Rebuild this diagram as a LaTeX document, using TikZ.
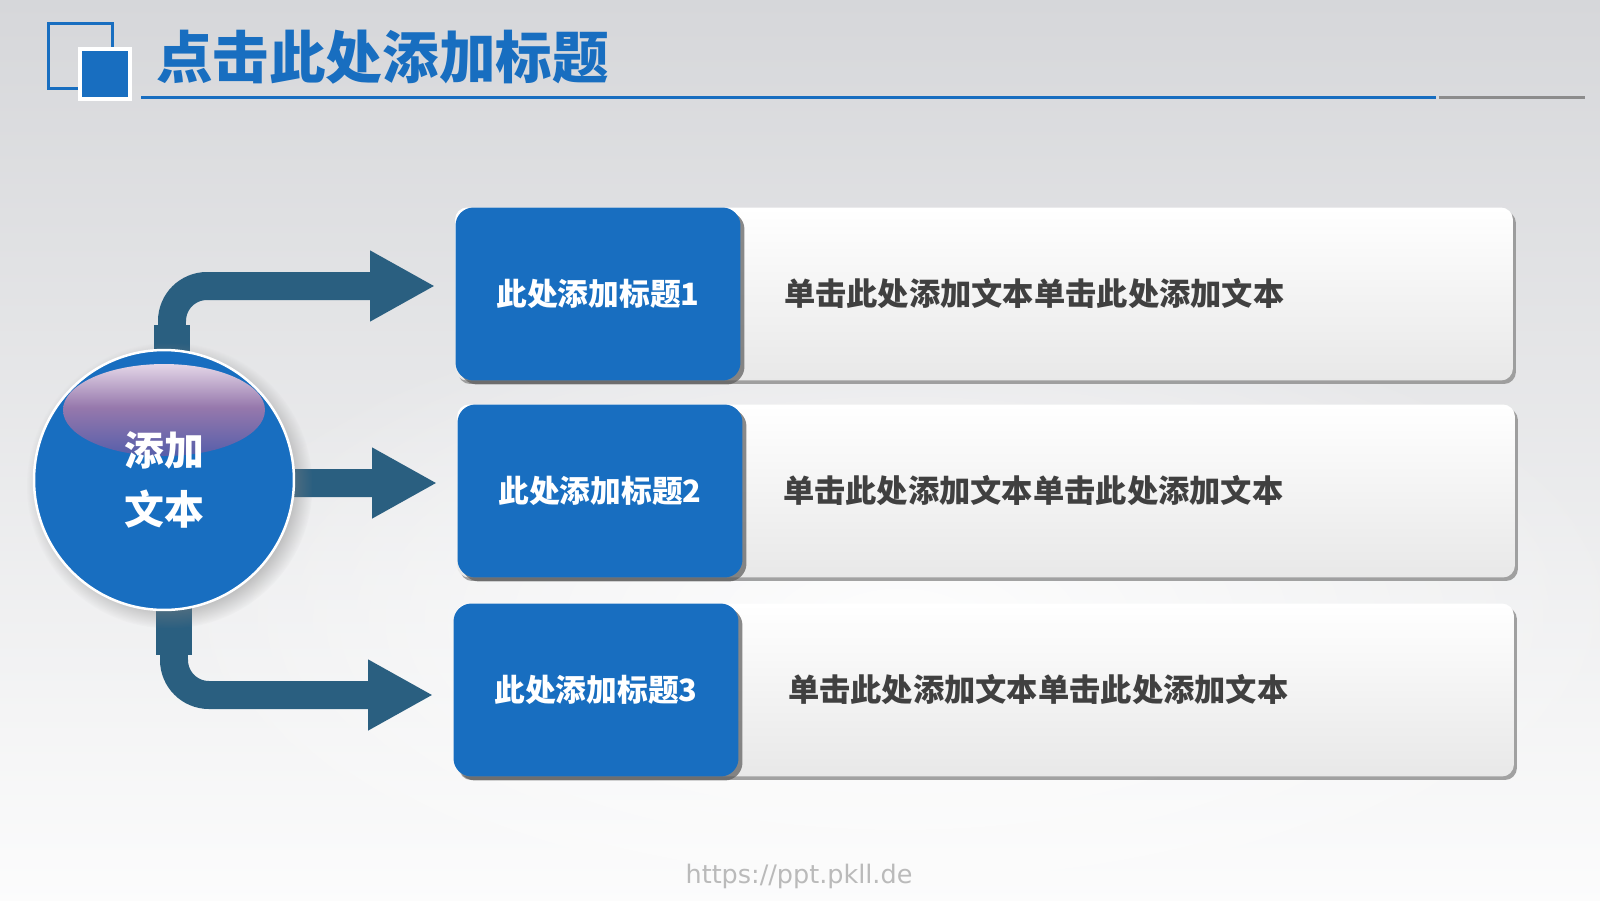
\documentclass[tikz,border=0pt]{standalone}
\usepackage{fontspec}
\setmainfont{Noto Sans CJK SC}
\newfontfamily\urlfont{DejaVu Sans}
\usetikzlibrary{positioning,shadows,arrows.meta,fadings}
\pgfdeclarelayer{back}
\pgfdeclarelayer{flows}
\pgfsetlayers{back,flows,main}

\definecolor{mainblue}{RGB}{24,110,192}
\definecolor{flowblue}{RGB}{42,95,128}
\definecolor{bggray}{RGB}{214,215,218}
\definecolor{textgray}{RGB}{64,64,64}
\definecolor{glosstop}{RGB}{244,234,244}
\definecolor{glossmid}{RGB}{150,120,172}
\definecolor{glossbot}{RGB}{80,92,170}
\tikzfading[name=glowfade, inner color=transparent!10, outer color=transparent!100]

\tikzset{
  titlebox/.style={fill=mainblue, text=white, rounded corners=0.36cm,
    minimum width=5.7cm, minimum height=3.46cm,
    font=\bfseries\fontsize{17.5}{21}\selectfont,
    drop shadow={shadow xshift=0.08cm, shadow yshift=-0.08cm, fill=black!65, opacity=0.7}},
  descbox/.style={top color=white, bottom color=black!9, rounded corners=0.24cm,
    minimum width=21.16cm, minimum height=3.46cm,
    drop shadow={shadow xshift=0.06cm, shadow yshift=-0.07cm, fill=black!45, opacity=0.8}},
  desctext/.style={anchor=west, text=textgray, font=\bfseries\fontsize{17.8}{21}\selectfont},
  flow/.style={draw=flowblue, line width=0.56cm, rounded corners=0.7cm,
    -{Triangle[length=1.3cm,width=1.32cm]}, shorten >=0.4cm},
  stem/.style={draw=flowblue, line width=0.72cm},
  hubnode/.style={circle, minimum size=5.2cm, fill=mainblue, draw=white, line width=0.05cm,
    circular drop shadow={shadow xshift=0.1cm, shadow yshift=-0.1cm, opacity=0.45}},
  hubtext/.style={text=white, align=center, font=\bfseries\fontsize{22.7}{33.5}\selectfont}
}

\begin{document}
\begin{tikzpicture}[x=0.02cm, y=-0.02cm]
  \useasboundingbox (0,0) rectangle (1600,900);

  % background
  \begin{pgfonlayer}{back}
    \shade[top color=bggray, bottom color=white!92!bggray] (0,0) rectangle (1600,900);
    \fill[white, path fading=glowfade] (900,620) ellipse [x radius=15cm, y radius=6.6cm];
  \end{pgfonlayer}

  % header
  \draw[mainblue, line width=0.06cm] (48,23) rectangle (112,88);
  \draw[white, line width=0.08cm, fill=mainblue] (80,49) rectangle (130,99);
  \node[anchor=west, text=mainblue, font=\bfseries\fontsize{32.2}{32}\selectfont] (title) at (150,57) {点击此处添加标题};
  \draw[mainblue, line width=0.06cm] (141,97) -- (1436,97);
  \draw[black!45, line width=0.06cm] (1439,97) -- (1585,97);

  % rows
  \node[descbox] (d1) at (984,294) {};
  \node[titlebox] (t1) at (598,294) {此处添加标题1};
  \node[desctext, right=0.74cm of t1] (x1) {单击此处添加文本单击此处添加文本};

  \node[descbox] (d2) at (986,491) {};
  \node[titlebox] (t2) at (600,491) {此处添加标题2};
  \node[desctext, right=0.68cm of t2] (x2) {单击此处添加文本单击此处添加文本};

  \node[descbox] (d3) at (985,690) {};
  \node[titlebox] (t3) at (596,690) {此处添加标题3};
  \node[desctext, right=0.86cm of t3] (x3) {单击此处添加文本单击此处添加文本};

  % hub, gloss and arrows
  \node[hubnode] (hub) at (164,480) {};
  \begin{scope}
    \clip (hub.center) circle [radius=2.57cm];
    \clip ([yshift=1.4cm]hub.center) ellipse [x radius=2.02cm, y radius=0.92cm];
    \shade[top color=glosstop, bottom color=glossbot, middle color=glossmid]
      (60,355) rectangle (270,460);
  \end{scope}
  \node[hubtext] (hubt) at (hub) {添加\\文本};
  \begin{pgfonlayer}{flows}
    \draw[flow] ([xshift=0.16cm]hub.center) |- ([yshift=0.16cm]t1.west);
    \draw[flow] ([yshift=-0.06cm]hub.center) -- ([yshift=0.16cm]t2.west);
    \draw[flow] ([xshift=0.2cm]hub.center) |- ([yshift=-0.1cm]t3.west);
    \draw[stem] ([xshift=0.16cm]hub.center) -- ++(0,-155);
    \draw[stem] ([xshift=0.2cm]hub.center) -- ++(0,175);
  \end{pgfonlayer}

  \node[text=black!27, font=\urlfont\fontsize{14.5}{14.5}\selectfont] (url) at (799,876) {https://ppt.pkll.de};
\end{tikzpicture}
\end{document}
